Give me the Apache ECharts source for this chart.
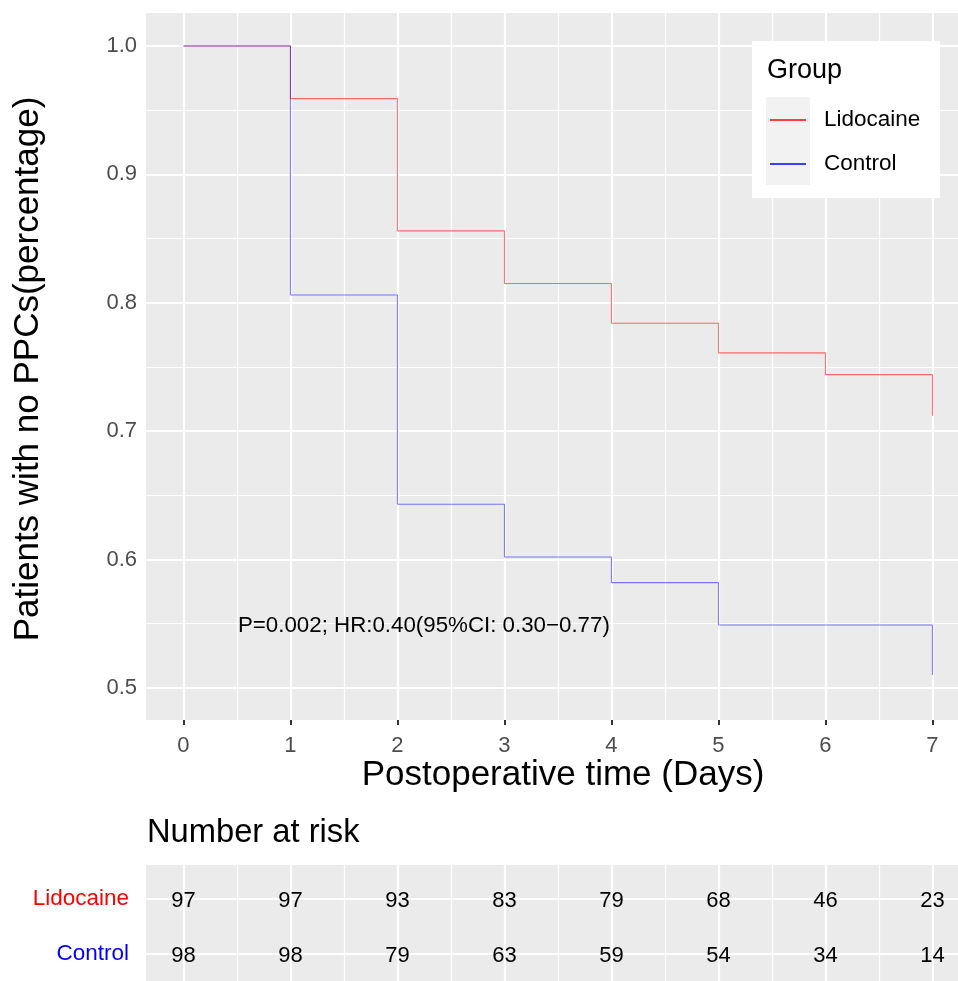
<!DOCTYPE html>
<html><head><meta charset="utf-8">
<script src="https://cdn.jsdelivr.net/npm/echarts@6/dist/echarts.min.js"></script>
<style>html,body{margin:0;padding:0;background:#fff}#c{width:958px;height:981px}</style>
</head><body><div id="c"></div>
<script>
const days = [0,1,2,3,4,5,6,7];
const lidocaineSurv = [1.0,0.959,0.856,0.815,0.784,0.761,0.744,0.712];
const controlSurv = [1.0,0.806,0.643,0.602,0.582,0.549,0.549,0.510];
const lidocaineRisk = [97,97,93,83,79,68,46,23];
const controlRisk = [98,98,79,63,59,54,34,14];
const xTicks = [0,1,2,3,4,5,6,7];
const xMinor = [0.5,1.5,2.5,3.5,4.5,5.5,6.5];
const yTicks = [0.5,0.6,0.7,0.8,0.9,1.0];
const yMinor = [0.55,0.65,0.75,0.85,0.95];
const riskRows = [2,1];
const groups = ['Lidocaine','Control'];
const annotationPos = [0.5,0.55];
const annotation = 'P=0.002; HR:0.40(95%CI: 0.30\u22120.77)';

const FONT = "'Liberation Sans', Arial, Helvetica, sans-serif";
const chart = echarts.init(document.getElementById('c'), null, {renderer:'canvas'});

function gridLines(xa, ya, xMaj, xMin, yMaj, yMin){
  const d = [];
  xMin.forEach(v=>d.push({xAxis:v, lineStyle:{width:1.2}}));
  yMin.forEach(v=>d.push({yAxis:v, lineStyle:{width:1.2}}));
  xMaj.forEach(v=>d.push({xAxis:v, lineStyle:{width:2.2}}));
  yMaj.forEach(v=>d.push({yAxis:v, lineStyle:{width:2.2}}));
  return {
    type:'line', xAxisIndex:xa, yAxisIndex:ya, data:[], z:1, silent:true,
    markLine:{silent:true, z:1, symbol:['none','none'], label:{show:false}, animation:false,
      lineStyle:{color:'#ffffff', type:'solid'}, emphasis:{disabled:true}, data:d}
  };
}

function textLabel(fontSize, position, formatter){
  return {show:true, position:position, distance:1, formatter:formatter, color:'#000000', opacity:1,
    textBorderWidth:0, fontSize:fontSize, fontFamily:FONT, offset:[0,2]};
}

const option = {
  animation:false,
  textStyle:{fontFamily:FONT},
  grid:[
    {left:146, top:13, width:812, height:707, show:true, backgroundColor:'#ebebeb', borderWidth:0},
    {left:146, top:865, width:812, height:116, show:true, backgroundColor:'#ebebeb', borderWidth:0}
  ],
  xAxis:[
    {gridIndex:0, type:'value', min:-0.35, max:7.2388,
     axisLine:{show:false}, splitLine:{show:false},
     axisTick:{show:true, customValues:xTicks, length:5, lineStyle:{color:'#333333', width:2}},
     axisLabel:{show:true, customValues:xTicks, margin:15, color:'#4d4d4d', fontSize:22, fontFamily:FONT}},
    {gridIndex:1, type:'value', min:-0.35, max:7.2388,
     axisLine:{show:false}, splitLine:{show:false}, axisTick:{show:false}, axisLabel:{show:false}}
  ],
  yAxis:[
    {gridIndex:0, type:'value', min:0.475, max:1.0257,
     axisLine:{show:false}, splitLine:{show:false},
     axisTick:{show:true, customValues:yTicks, length:5, lineStyle:{color:'#333333', width:2}},
     axisLabel:{show:true, customValues:yTicks, margin:9, color:'#4d4d4d', fontSize:22, fontFamily:FONT,
       formatter:v=>v.toFixed(1)}},
    {gridIndex:1, type:'value', min:0.509, max:2.618,
     axisLine:{show:false}, splitLine:{show:false}, axisTick:{show:false},
     axisLabel:{show:true, customValues:riskRows, margin:17, fontSize:22.5, fontFamily:FONT,
       formatter:v=> v===2 ? '{a|'+groups[0]+'}' : '{b|'+groups[1]+'}',
       rich:{a:{color:'#ff0000', fontSize:22.5, fontFamily:FONT}, b:{color:'#0000ff', fontSize:22.5, fontFamily:FONT}}}}
  ],
  legend:{
    orient:'vertical', left:770, top:107, itemWidth:36, itemHeight:1.5, itemGap:18, padding:0,
    icon:'rect', z:60, selectedMode:false,
    textStyle:{fontSize:22.5, color:'#000', fontFamily:FONT, lineHeight:26, padding:[0,0,0,13]},
    data:[{name:groups[0], itemStyle:{color:'#ff0000'}}, {name:groups[1], itemStyle:{color:'#0000ff'}}]
  },
  graphic:[
    {type:'rect', z:50, shape:{x:752, y:41, width:188, height:157}, style:{fill:'#ffffff'}},
    {type:'rect', z:51, shape:{x:766, y:97, width:44, height:88}, style:{fill:'#f2f2f2'}},
    {type:'text', z:52, x:767, y:71, style:{text:'Group', font:'27px '+FONT, fill:'#000', align:'left', verticalAlign:'middle'}},
    {type:'text', z:52, x:563, y:775, style:{text:'Postoperative time (Days)', font:'35px '+FONT, fill:'#000', align:'center', verticalAlign:'middle'}},
    {type:'text', z:52, x:28, y:369, rotation:Math.PI/2, style:{text:'Patients with no PPCs(percentage)', font:'35px '+FONT, fill:'#000', align:'center', verticalAlign:'middle'}},
    {type:'text', z:52, x:147, y:833, style:{text:'Number at risk', font:'32.7px '+FONT, fill:'#000', align:'left', verticalAlign:'middle'}}
  ],
  series:[
    gridLines(0,0,xTicks,xMinor,yTicks,yMinor),
    gridLines(1,1,xTicks,xMinor,riskRows,[]),
    {name:groups[0], type:'line', xAxisIndex:0, yAxisIndex:0, step:'end', showSymbol:false, symbol:'none', z:3,
     data:days.map((d,i)=>[d, lidocaineSurv[i]]), lineStyle:{color:'rgba(255,0,0,0.55)', width:1.1}, itemStyle:{color:'#ff0000'}},
    {name:groups[1], type:'line', xAxisIndex:0, yAxisIndex:0, step:'end', showSymbol:false, symbol:'none', z:3,
     data:days.map((d,i)=>[d, controlSurv[i]]), lineStyle:{color:'rgba(0,0,255,0.5)', width:1.1}, itemStyle:{color:'#0000ff'}},
    {type:'scatter', xAxisIndex:0, yAxisIndex:0, z:4, silent:true, symbolSize:0.01,
     itemStyle:{color:'rgba(0,0,0,0)', opacity:1}, data:[annotationPos],
     label:textLabel(22.3, 'right', annotation)},
    {type:'scatter', xAxisIndex:1, yAxisIndex:1, z:4, silent:true, symbolSize:0.01,
     itemStyle:{color:'rgba(0,0,0,0)', opacity:1}, data:days.map((d,i)=>[d, riskRows[0], lidocaineRisk[i]]),
     label:textLabel(22, 'inside', p=>String(p.value[2]))},
    {type:'scatter', xAxisIndex:1, yAxisIndex:1, z:4, silent:true, symbolSize:0.01,
     itemStyle:{color:'rgba(0,0,0,0)', opacity:1}, data:days.map((d,i)=>[d, riskRows[1], controlRisk[i]]),
     label:textLabel(22, 'inside', p=>String(p.value[2]))}
  ]
};
chart.setOption(option);
</script>
</body></html>
